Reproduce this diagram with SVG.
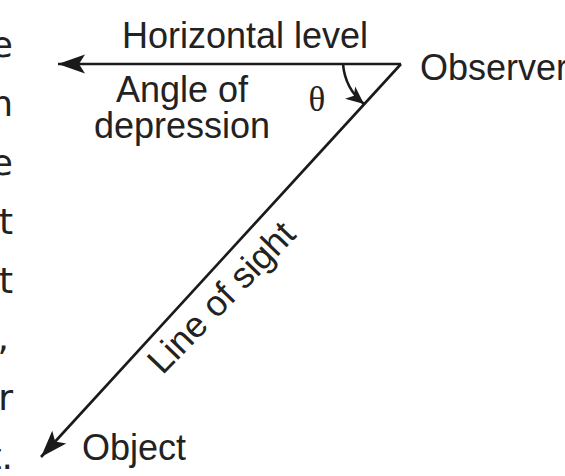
<svg xmlns="http://www.w3.org/2000/svg" width="565" height="476" viewBox="0 0 565 476">
<style>
.t{font-family:"Liberation Sans",Arial,sans-serif;font-size:36px;fill:#222;}
.m{font-family:"DejaVu Sans","Liberation Sans",sans-serif;font-size:36px;fill:#222;text-anchor:end;}
.ln{stroke:#1a1a1a;stroke-width:2.6;fill:none;}
</style>
<defs>
<marker id="ah" markerUnits="userSpaceOnUse" viewBox="-30 -11 32 22" refX="0" refY="0" markerWidth="32" markerHeight="22" orient="auto">
<path d="M0,0 L-27,-9.5 L-21,0 L-27,9.5 Z" fill="#1a1a1a"/>
</marker>
<marker id="sh" markerUnits="userSpaceOnUse" viewBox="-20 -10 22 20" refX="0" refY="0" markerWidth="22" markerHeight="20" orient="auto">
<path d="M0,0 L-18,-8 L-13,0 L-18,8 Z" fill="#1a1a1a"/>
</marker>
</defs>
<rect width="565" height="476" fill="#fff"/>
<g id="margin-text">
<text class="m" x="13" y="57">e</text>
<text class="m" x="13" y="116">n</text>
<text class="m" x="13" y="175">e</text>
<text class="m" x="13" y="234">t</text>
<text class="m" x="13" y="293">t</text>
<text class="m" x="9" y="350">,</text>
<text class="m" x="13" y="410">r</text>
<text class="m" x="13" y="469">t.</text>
</g>
<g id="connectors">
<path class="ln" d="M401,64 L58,64" marker-end="url(#ah)"/>
<path class="ln" d="M401,64 L41,457" marker-end="url(#ah)"/>
<path class="ln" d="M343,64 A58,58 0 0,0 364,104" marker-end="url(#sh)"/>
</g>
<g id="observer"><text class="t" x="420" y="80">Observer</text></g>
<g id="object"><text class="t" x="82" y="460">Object</text></g>
<g id="horizontal-level"><text class="t" x="122" y="48">Horizontal level</text></g>
<g id="angle-of-depression">
<text class="t" x="116" y="102">Angle of</text>
<text class="t" x="94" y="138">depression</text>
</g>
<g id="theta"><text x="317" y="111" text-anchor="middle" style="font-family:'Liberation Serif','Times New Roman',serif;font-size:35px;fill:#222">θ</text></g>
<g id="line-of-sight"><text class="t" text-anchor="middle" transform="translate(230,306) rotate(-46)">Line of sight</text></g>
</svg>
